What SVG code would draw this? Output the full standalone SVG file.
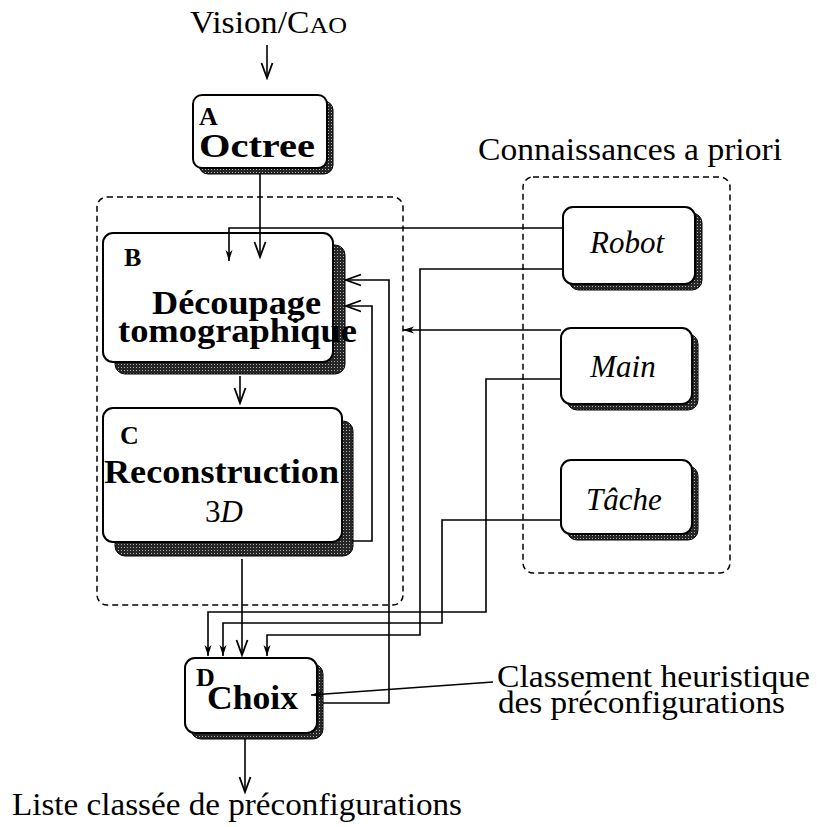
<svg xmlns="http://www.w3.org/2000/svg" width="817" height="827" viewBox="0 0 817 827">
<style>
  .box{fill:#fff;stroke:#000;stroke-width:2}
  .sh{fill:url(#stip);stroke:#000;stroke-width:1}
  .dash{fill:none;stroke:#000;stroke-width:1.5;stroke-dasharray:6 4}
  .ln{fill:none;stroke:#000;stroke-width:1.6}
  .big{marker-end:url(#av)}
  .sm{marker-end:url(#as)}
  text{font-family:"Liberation Serif","Times New Roman",serif;fill:#000}
  .t{font-size:31px}
  .b{font-size:34px;font-weight:bold}
  .lbl{font-size:26px;font-weight:bold}
  .i{font-size:31px;font-style:italic}
</style>
<defs>
  <pattern id="stip" width="3" height="3" patternUnits="userSpaceOnUse">
    <rect width="3" height="3" fill="#262626"/>
    <rect x="1" y="1" width="1" height="1" fill="#b0b0b0"/>
  </pattern>
  <marker id="av" markerUnits="userSpaceOnUse" viewBox="-17 -8 19 16" refX="0" refY="0" markerWidth="19" markerHeight="16" orient="auto">
    <path d="M-15,-5.5 L0,0 L-15,5.5" fill="none" stroke="#000" stroke-width="1.8"/>
  </marker>
  <marker id="as" markerUnits="userSpaceOnUse" viewBox="-12 -5 13 10" refX="0" refY="0" markerWidth="13" markerHeight="10" orient="auto">
    <path d="M-11,-3.5 L0,0 L-11,3.5 L-8,0 Z" fill="#000"/>
  </marker>
</defs>

<!-- free texts -->
<text class="t" x="190" y="33" textLength="157" lengthAdjust="spacingAndGlyphs">Vision/C<tspan font-size="24">AO</tspan></text>
<text class="t" x="478" y="160" textLength="304" lengthAdjust="spacingAndGlyphs">Connaissances a priori</text>
<text class="t" x="497" y="687" textLength="313" lengthAdjust="spacingAndGlyphs">Classement heuristique</text>
<text class="t" x="498" y="713" textLength="287" lengthAdjust="spacingAndGlyphs">des préconfigurations</text>
<text class="t" x="12" y="815" textLength="450" lengthAdjust="spacingAndGlyphs">Liste classée de préconfigurations</text>

<!-- containers -->
<g id="groupBC"><rect class="dash" x="97" y="197" width="306" height="408" rx="10"/></g>
<g id="groupKnowledge"><rect class="dash" x="523" y="177" width="207" height="396" rx="10"/></g>

<g id="nodeA">
  <rect class="sh" x="199" y="101" width="134" height="73" rx="9"/>
  <rect class="box" x="193" y="95" width="134" height="73" rx="9"/>
  <text class="lbl" x="199" y="125">A</text>
  <text class="b" x="199" y="157" textLength="116" lengthAdjust="spacingAndGlyphs">Octree</text>
</g>

<g id="nodeB">
  <rect class="sh" x="115" y="245" width="230" height="129" rx="10"/>
  <rect class="box" x="103" y="233" width="230" height="129" rx="10"/>
  <text class="lbl" x="124" y="266">B</text>
  <text class="b" x="152" y="314" textLength="169" lengthAdjust="spacingAndGlyphs">Découpage</text>
  <text class="b" x="118" y="342" textLength="239" lengthAdjust="spacingAndGlyphs">tomographique</text>
</g>

<g id="nodeC">
  <rect class="sh" x="115" y="421" width="238" height="135" rx="10"/>
  <rect class="box" x="103" y="408" width="239" height="134" rx="10"/>
  <text class="lbl" x="120" y="444">C</text>
  <text class="b" x="104" y="483" textLength="235" lengthAdjust="spacingAndGlyphs">Reconstruction</text>
  <text class="t" x="205" y="522">3<tspan font-style="italic">D</tspan></text>
</g>

<g id="nodeD">
  <rect class="sh" x="191" y="664" width="132" height="75" rx="10"/>
  <rect class="box" x="185" y="658" width="132" height="75" rx="10"/>
  <text class="lbl" x="196" y="686">D</text>
  <text class="b" x="207" y="709" textLength="91" lengthAdjust="spacingAndGlyphs">Choix</text>
</g>

<g id="nodeRobot">
  <rect class="sh" x="569" y="213" width="133" height="77" rx="10"/>
  <rect class="box" x="563" y="207" width="132" height="77" rx="10"/>
  <text class="i" x="627" y="253" text-anchor="middle">Robot</text>
</g>

<g id="nodeMain">
  <rect class="sh" x="567" y="334" width="131" height="76" rx="10"/>
  <rect class="box" x="561" y="328" width="131" height="76" rx="10"/>
  <text class="i" x="623" y="377" text-anchor="middle">Main</text>
</g>

<g id="nodeTache">
  <rect class="sh" x="567" y="466" width="131" height="74" rx="10"/>
  <rect class="box" x="561" y="460" width="131" height="74" rx="10"/>
  <text class="i" x="624" y="510" text-anchor="middle">Tâche</text>
</g>

<g id="connectors">
  <path class="ln big" d="M267,45 V78"/>
  <path class="ln big" d="M260,174 V257"/>
  <path class="ln big" d="M240,376 V403"/>
  <path class="ln big" d="M242,559 V655"/>
  <path class="ln big" d="M245,739 V792"/>
  <path class="ln sm" d="M563,228 H229 V261"/>
  <path class="ln sm" d="M563,269 H420 V635 H267 V656"/>
  <path class="ln sm" d="M561,330 H403"/>
  <path class="ln sm" d="M561,379 H486 V612 H208 V656"/>
  <path class="ln sm" d="M561,520 H442 V623 H223 V656"/>
  <path class="ln big" d="M323,703 H389 V280 H346"/>
  <path class="ln big" d="M352,541 H372 V306 H346"/>
  <path class="ln sm" d="M493,682 L311,695"/>
</g>
</svg>
